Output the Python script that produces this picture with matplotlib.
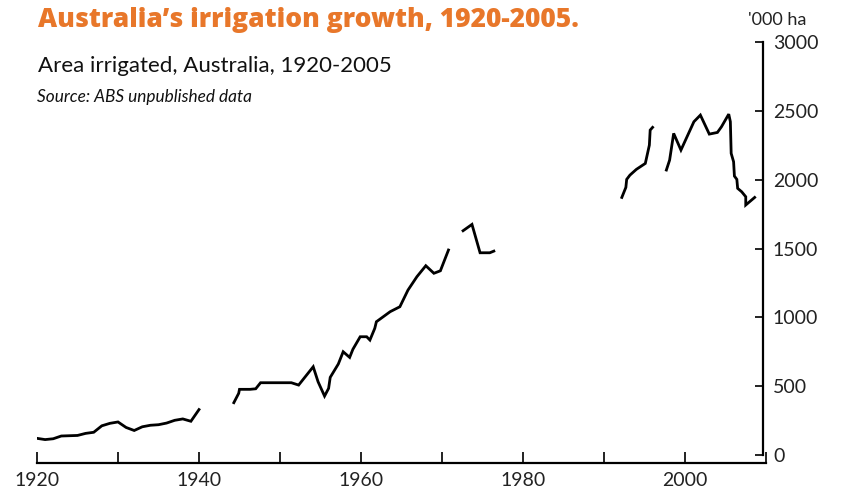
import numpy as np
import matplotlib.pyplot as plt
from matplotlib.ticker import FixedLocator

plt.rcParams['font.family'] = ['Lato', 'DejaVu Sans']

# area irrigated ('000 ha), gaps between the record segments are NaN
years = [
    1920, 1921, 1922, 1923, 1924, 1925, 1926, 1927, 1928, 1929, 1930,
    1931, 1932, 1933, 1934, 1935, 1936, 1937, 1938, 1939, 1940,
    np.nan,
    1944.3, 1944.9, 1945.0, 1946.3, 1947.0, 1947.6, 1951.4, 1952.3, 1954.1,
    1954.7, 1955.5, 1956.0, 1956.2, 1957.2, 1957.8, 1958.6, 1959.0, 1959.9,
    1960.7, 1961.1, 1961.7, 1961.9, 1963.6, 1964.8, 1965.8, 1966.9, 1968.0,
    1969.0, 1969.8, 1970.8,
    np.nan,
    1972.6, 1973.7, 1974.7, 1975.9, 1976.4,
    np.nan,
    1992.2, 1992.7, 1992.8, 1993.2, 1994.0, 1995.1, 1995.6, 1995.7, 1996.0,
    np.nan,
    1997.7, 1998.1, 1998.6, 1999.5, 2001.1, 2001.9, 2003.0, 2004.0, 2004.5,
    2005.4, 2005.6, 2005.7, 2006.0, 2006.1, 2006.4, 2006.5, 2007.0, 2007.5,
    2007.5, 2008.6,
]
area = [
    121, 112, 118, 138, 140, 142, 157, 165, 212, 230, 240,
    200, 178, 205, 216, 220, 232, 252, 262, 245, 330,
    np.nan,
    380, 448, 477, 477, 481, 525, 525, 508, 641,
    532, 428, 484, 564, 661, 750, 709, 768, 859,
    859, 835, 920, 968, 1041, 1077, 1198, 1295, 1375,
    1320, 1338, 1489,
    np.nan,
    1629, 1675, 1469, 1469, 1481,
    np.nan,
    1871, 1944, 2002, 2033, 2075, 2118, 2251, 2360, 2380,
    np.nan,
    2070, 2142, 2336, 2215, 2421, 2469, 2331, 2343, 2384,
    2476, 2421, 2191, 2130, 2026, 2002, 1937, 1912, 1876,
    1816, 1871,
]

x_ticks = list(range(1920, 2011, 10))
x_labels = [str(t) if t % 20 == 0 and t < 2010 else '' for t in x_ticks]
y_ticks = list(range(0, 3001, 500))

fig = plt.figure(figsize=(8.48, 5.01), dpi=100)
ax = fig.add_axes([37 / 848, 1 - 455 / 501, (766 - 37) / 848, (455 - 42) / 501])

ax.plot(years, area, color='black', linewidth=2.0, solid_joinstyle='miter')

ax.set_xlim(1920, 2010)
ax.set_ylim(0, 3000)

for s in ['top', 'left']:
    ax.spines[s].set_visible(False)
ax.spines['bottom'].set_position(('outward', 6))
ax.spines['bottom'].set_bounds(1920, 2010)
ax.spines['right'].set_bounds(0, 3000)
ax.spines['right'].set_position(('outward', -2))
for s in ['bottom', 'right']:
    ax.spines[s].set_linewidth(1.6)

ax.xaxis.set_major_locator(FixedLocator(x_ticks))
ax.set_xticklabels(x_labels)
ax.yaxis.tick_right()
ax.set_yticks(y_ticks)
ax.set_yticklabels([str(t) for t in y_ticks])
ax.tick_params(axis='x', direction='in', length=8, width=1.4, pad=6,
               labelsize=14, colors='#222222')
ax.tick_params(axis='y', direction='in', length=6, width=1.4, pad=7,
               labelsize=14, colors='#222222')

fig.text(38 / 848, 1 - 20 / 501, "Australia\u2019s irrigation growth, 1920-2005.",
         color='#E8772A', fontsize=19, fontweight='heavy', family=['Open Sans', 'DejaVu Sans'],
         va='center', ha='left')
fig.text(38 / 848, 1 - 66 / 501, 'Area irrigated, Australia, 1920-2005',
         color='#111111', fontsize=16, va='center', ha='left')
fig.text(37 / 848, 1 - 97 / 501, 'Source: ABS unpublished data',
         color='#111111', fontsize=12.4, fontstyle='italic',
         va='center', ha='left')
fig.text(748 / 848, 1 - 20 / 501, "'000 ha", color='#222222', fontsize=13,
         va='center', ha='left')

fig.savefig('out.png', dpi=100)
